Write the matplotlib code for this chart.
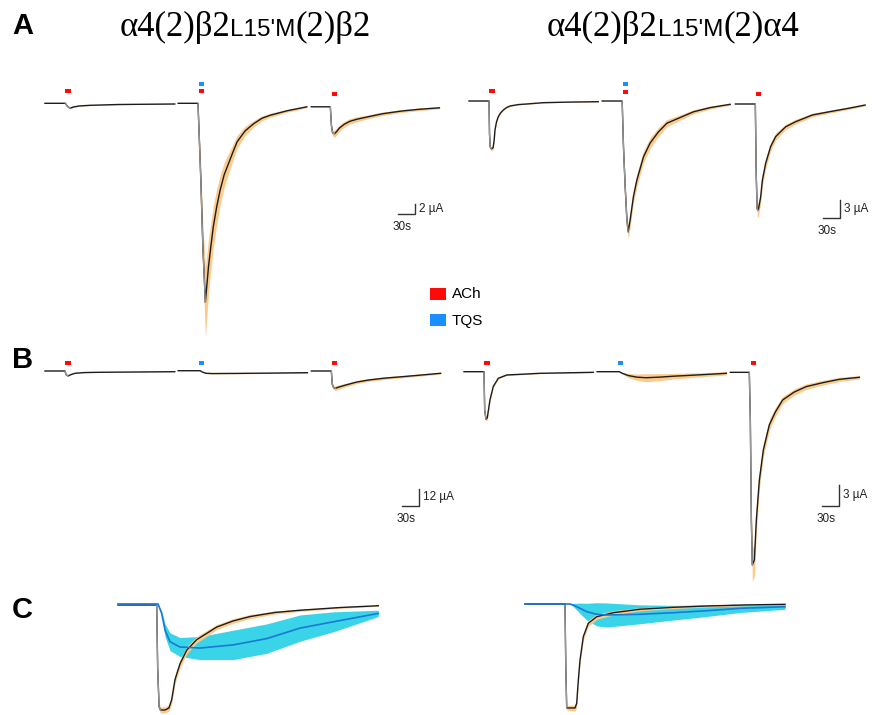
import numpy as np
import matplotlib
matplotlib.use("Agg")
import matplotlib.pyplot as plt
from matplotlib.patches import Rectangle
from matplotlib.transforms import offset_copy

W, H = 885, 715
SEC_PER_PX = 30 / 17.0
SWEEP = 235.0          # s between the starts of consecutive sweeps

ORANGE = "#fccb8c"
CYAN = "#3ad4e8"
TRACE = "#1c1c1c"
RED = "#ff0a0a"
BLUE = "#1890ff"

# ---------------- data ----------------
# time in s from the start of each sweep, current in uA, e = sem
# A, a4(2)b2L15'M(2)b2
aL1_t = [0, 36, 39, 44, 50, 60, 80, 130, 229]
aL1_i = [0, 0, -0.54, -1.0, -0.74, -0.54, -0.4, -0.24, -0.14]
aL1_e = [0, 0, 0.05, 0.1, 0.08, 0.06, 0.05, 0.04, 0.03]
aL2_t = [0, 35, 40, 43.6, 48, 53.5, 57.4, 62, 68, 74, 81.2, 89, 96.2, 104, 118.3, 133, 147.7, 162, 192, 227]
aL2_i = [0, 0, -15.3, -28.7, -39.8, -32.7, -28.9, -24.7, -20.7, -17.4, -14.3, -12.0, -9.9, -7.7, -5.5, -4.1,
         -3.0, -2.4, -1.5, -0.7]
aL2_e = [0, 0, 2.5, 4.5, 7.0, 5.5, 4.8, 4.2, 3.6, 3.0, 2.5, 2.0, 1.6, 1.3, 0.9, 0.65, 0.5, 0.4, 0.3, 0.2]
aL3_t = [0, 33.5, 35.5, 37.5, 41, 45, 50, 58, 68, 80, 100, 125, 159, 190, 226]
aL3_i = [-0.7, -0.7, -4.5, -5.9, -6.1, -5.6, -4.9, -4.2, -3.6, -3.2, -2.7, -2.1, -1.55, -1.2, -0.9]
aL3_e = [0, 0, 0.4, 0.6, 0.7, 0.7, 0.65, 0.6, 0.55, 0.5, 0.4, 0.35, 0.3, 0.25, 0.2]

# A, a4(2)b2L15'M(2)a4
aR1_t = [0, 35.3, 36.2, 37.5, 39.5, 42.5, 44.3, 45.9, 48.5, 51.7, 55.6, 60.5, 66.2, 72.4, 86.5, 101.8,
         131.1, 178, 228]
aR1_i = [0, 0, -5.5, -7.7, -8.0, -7.8, -6.6, -4.8, -3.5, -2.6, -2.0, -1.5, -1.1, -0.83, -0.6, -0.5,
         -0.28, -0.18, -0.12]
aR1_e = [0, 0, 0.2, 0.3, 0.3, 0.3, 0.3, 0.25, 0.2, 0.15, 0.12, 0.1, 0.09, 0.08, 0.06, 0.05, 0.04, 0.03, 0.03]
aR2_t = [0, 35.3, 37.6, 40.6, 43.6, 45.9, 49.4, 55.2, 61.2, 72.9, 84.7, 98.8, 114.2, 137.7, 161.1, 190.6, 225.9]
aR2_i = [0, 0, -7.6, -14.3, -19.8, -21.8, -19.8, -15.9, -13.2, -9.3, -7.0, -5.2, -3.7, -2.75, -1.8, -1.1, -0.55]
aR2_e = [0, 0, 0.4, 0.8, 1.1, 1.2, 1.2, 1.15, 1.1, 1.0, 0.9, 0.75, 0.6, 0.45, 0.35, 0.25, 0.15]
aR3_t = [0, 35.3, 36.8, 38.5, 40.5, 44.7, 47.7, 53.5, 62.3, 71.1, 80, 88.8, 106.4, 136, 165.4, 200.6, 229]
aR3_i = [-0.5, -0.5, -12.0, -18.0, -18.2, -16.0, -13.2, -10.4, -7.6, -5.95, -5.1, -4.3, -3.45, -2.33, -1.8,
         -1.2, -0.67]
aR3_e = [0, 0, 0.7, 1.1, 1.2, 1.1, 1.0, 0.9, 0.75, 0.6, 0.5, 0.45, 0.4, 0.3, 0.25, 0.2, 0.15]

# B, a4(2)b2L15'M(2)b2
bL1_t = [0, 35.3, 37, 40.6, 46, 53, 70, 97, 229]
bL1_i = [0, 0, -2.5, -3.5, -2.5, -1.6, -1.1, -0.9, -0.5]
bL1_e = [0, 0, 0.1, 0.15, 0.1, 0.08, 0.06, 0.05, 0.05]
bL2_t = [0, 38.8, 42, 49, 60, 100, 160, 228]
bL2_i = [0.2, 0.2, -0.6, -1.6, -1.8, -1.7, -1.5, -1.2]
bL2_e = [0, 0, 0.2, 0.3, 0.3, 0.3, 0.25, 0.2]
bL3_t = [0, 35.3, 37, 39.5, 42.4, 47, 60.5, 80, 101.8, 130, 160.6, 195, 228.2]
bL3_i = [0, 0, -9.5, -11.8, -12.2, -11.5, -9.9, -7.8, -6.3, -5.0, -4.0, -2.8, -1.6]
bL3_e = [0, 0, 1.0, 1.4, 1.6, 1.5, 1.3, 1.1, 1.0, 0.9, 0.8, 0.7, 0.6]

# B, a4(2)b2L15'M(2)a4
bR1_t = [0, 35.3, 36.5, 38.8, 41, 45.9, 51.7, 60.5, 75.4, 134, 228]
bR1_i = [0, 0, -5.5, -6.8, -6.6, -4.0, -2.1, -0.94, -0.47, -0.23, -0.09]
bR1_e = [0, 0, 0.2, 0.3, 0.3, 0.25, 0.15, 0.1, 0.08, 0.05, 0.04]
bR2_t = [0, 38.8, 45, 55, 70, 86, 110, 133, 180, 228]
bR2_i = [0, 0, -0.25, -0.55, -0.78, -0.86, -0.78, -0.65, -0.45, -0.23]
bR2_e = [0, 0, 0.12, 0.3, 0.45, 0.57, 0.5, 0.4, 0.3, 0.24]
bR3_t = [0, 33.5, 35.3, 37.1, 38.8, 42.4, 45.9, 51.2, 58.2, 68.8, 79.4, 92.3, 112.9, 133.6, 163, 192.4, 227.7]
bR3_i = [-0.09, -0.09, -6.9, -21.2, -27.6, -26.9, -21.2, -15.5, -11.2, -7.6, -5.76, -4.04, -2.9, -2.14,
         -1.57, -1.09, -0.8]
bR3_e = [0, 0, 0.5, 1.5, 2.4, 2.3, 1.8, 1.3, 1.0, 0.8, 0.65, 0.5, 0.45, 0.4, 0.35, 0.3, 0.25]

# C, normalised ACh vs TQS responses
cL_ach_t = [0, 68.3, 70, 72.5, 75, 83, 90, 94.8, 100.6, 109.4, 121.3, 138.9, 174.2, 203, 233, 277, 321.2,
            392, 459.3]
cL_ach_i = [0, 0, -0.6, -0.97, -1.0, -1.0, -0.98, -0.9, -0.71, -0.56, -0.43, -0.33, -0.21, -0.152, -0.11,
            -0.071, -0.05, -0.024, -0.007]
cL_ach_e = [0, 0, 0.02, 0.03, 0.03, 0.03, 0.03, 0.04, 0.04, 0.04, 0.035, 0.03, 0.025, 0.022, 0.02, 0.015,
            0.01, 0.008, 0.005]
cL_tqs_t = [0, 70.6, 77.1, 83, 91.8, 109.4, 144.7, 203.3, 262.5, 321.2, 379.9, 459.3]
cL_tqs_i = [0.01, 0.01, -0.08, -0.24, -0.35, -0.40, -0.41, -0.38, -0.32, -0.22, -0.16, -0.08]
cL_tqs_e = [0, 0, 0.02, 0.06, 0.085, 0.09, 0.11, 0.14, 0.14, 0.125, 0.095, 0.03]

cR_ach_t = [0, 70.6, 72, 73.6, 88.3, 91.2, 94.1, 97.1, 102.9, 111.7, 126.5, 155.8, 203, 260, 320.7, 390, 458.9]
cR_ach_i = [0, 0, -0.6, -0.99, -0.99, -0.946, -0.724, -0.533, -0.311, -0.184, -0.121, -0.083, -0.05, -0.032,
            -0.019, -0.009, -0.003]
cR_ach_e = [0, 0, 0.02, 0.02, 0.03, 0.04, 0.04, 0.04, 0.035, 0.03, 0.025, 0.02, 0.015, 0.012, 0.01, 0.008, 0.005]
cR_tqs_t = [0, 79.4, 85.3, 97.1, 108.9, 126.5, 144.2, 203, 261.7, 320.7, 379.5, 458.9]
cR_tqs_i = [0, 0, -0.01, -0.041, -0.073, -0.098, -0.105, -0.098, -0.083, -0.064, -0.041, -0.026]
cR_tqs_e = [0, 0, 0.015, 0.05, 0.08, 0.11, 0.115, 0.09, 0.07, 0.055, 0.04, 0.025]

drugs_A = [["ACh"], ["ACh", "TQS"], ["ACh"]]
drugs_B = [["ACh"], ["TQS"], ["ACh"]]
drug_colors = {"ACh": RED, "TQS": BLUE}

fig = plt.figure(figsize=(W / 100, H / 100), dpi=100)

# full-figure overlay in pixel units for labels / legend
lay = fig.add_axes([0, 0, 1, 1])
lay.set_xlim(0, W)
lay.set_ylim(H, 0)
lay.axis("off")


def panel(x0, y0, ppu):
    # axes covering whole figure, time 0 at px x0, current 0 at px y0
    ax = fig.add_axes([0, 0, 1, 1])
    ax.set_xlim(-x0 * SEC_PER_PX, (W - x0) * SEC_PER_PX)
    ax.set_ylim(-(H - y0) / ppu, y0 / ppu)
    ax.axis("off")
    return ax


def trace(ax, t, i, e, t_off=0.0, band=ORANGE, line=TRACE, z=2):
    t = np.asarray(t, float) + t_off
    i = np.asarray(i, float)
    e = np.asarray(e, float)
    ax.fill_between(t, i - e, i + e, color=band, lw=0, zorder=z)
    ax.plot(t, i, color=line, lw=1.0, zorder=z + 0.5)
    pk = int(np.argmin(i))
    if t[pk] - t[1] < 15:   # fast rising phase looks grey in the recording
        ax.plot(t[1:pk + 1], i[1:pk + 1], color="#9a9a9a", lw=0.9, zorder=z + 0.6)


def marks(ax, sweeps, drugs, rises):
    for (t, i), ds in zip(sweeps, drugs):
        for d, r in zip(ds, rises[len(ds) - 1]):
            tr = offset_copy(ax.transData, fig=fig, x=0, y=r, units="dots")
            ax.plot([t[0] + 36, t[0] + 46], [i[0], i[0]], color=drug_colors[d], lw=4 * 0.72,
                    solid_capstyle="butt", transform=tr, zorder=5)


def scale_bar(ax, x0, y0, ppu, cx, cy, uA, label):
    t_end = (cx - x0) * SEC_PER_PX
    i_bot = (y0 - cy) / ppu
    ax.plot([t_end - 30, t_end, t_end], [i_bot, i_bot, i_bot + uA],
            color="#333333", lw=1.0, solid_joinstyle="miter")
    ax.annotate(label, (t_end, i_bot + uA / 2), xytext=(4, 0), textcoords="offset pixels",
                ha="left", va="center", fontsize=8.5, family="Liberation Sans", color="#222222")
    ax.annotate("30s", (t_end - 15, i_bot), xytext=(-4, -7), textcoords="offset pixels",
                ha="center", va="top", fontsize=8.5, family="Liberation Sans", color="#222222")


def row(x0, y0, ppu, sweeps, drugs, rises):
    ax = panel(x0, y0, ppu)
    for k, (t, i, e) in enumerate(sweeps):
        trace(ax, t, i, e, t_off=k * SWEEP)
    marks(ax, [(np.asarray(t) + k * SWEEP, i) for k, (t, i, e) in enumerate(sweeps)], drugs, rises)
    return ax


# A row
axAL = row(45, 103.3, 5.0, [(aL1_t, aL1_i, aL1_e), (aL2_t, aL2_i, aL2_e), (aL3_t, aL3_i, aL3_e)],
           drugs_A, [[12.5], [12, 19.5]])
scale_bar(axAL, 45, 103.3, 5.0, 415, 214, 2, "2 µA")
axAR = row(469, 101, 6.0, [(aR1_t, aR1_i, aR1_e), (aR2_t, aR2_i, aR2_e), (aR3_t, aR3_i, aR3_e)],
           drugs_A, [[10], [9, 17]])
scale_bar(axAR, 469, 101, 6.0, 840, 218, 3, "3 µA")

# B row
axBL = row(45, 371, 1.42, [(bL1_t, bL1_i, bL1_e), (bL2_t, bL2_i, bL2_e), (bL3_t, bL3_i, bL3_e)],
           drugs_B, [[8]])
scale_bar(axBL, 45, 371, 1.42, 419, 506, 12, "12 µA")
axBR = row(464, 371.7, 7.0, [(bR1_t, bR1_i, bR1_e), (bR2_t, bR2_i, bR2_e), (bR3_t, bR3_i, bR3_e)],
           drugs_B, [[9]])
scale_bar(axBR, 464, 371.7, 7.0, 839, 506, 3, "3 µA")

# C row
for x0, y0, ach, tqs in [(118, 605, (cL_ach_t, cL_ach_i, cL_ach_e), (cL_tqs_t, cL_tqs_i, cL_tqs_e)),
                         (525, 604, (cR_ach_t, cR_ach_i, cR_ach_e), (cR_tqs_t, cR_tqs_i, cR_tqs_e))]:
    ax = panel(x0, y0, 105.0)
    tt, ti, te = (np.asarray(a, float) for a in tqs)
    ax.fill_between(tt, ti - te, ti + te, color=CYAN, lw=0, zorder=1)
    trace(ax, *ach, z=2)
    ax.plot(tt, ti, color="#1a78d6", lw=1.2, zorder=4)

# panel letters
for s, y in [("A", 12), ("B", 346), ("C", 596)]:
    lay.text(12, y, s, fontsize=21, fontweight="bold", family="Liberation Sans",
             ha="left", va="top")

# legend
lay.add_patch(Rectangle((430, 288), 16, 12, color=RED, lw=0))
lay.add_patch(Rectangle((430, 314), 16, 12, color=BLUE, lw=0))
lay.text(452, 294.5, "ACh", fontsize=11, family="Liberation Sans", va="center", ha="left")
lay.text(452, 320.5, "TQS", fontsize=11, family="Liberation Sans", va="center", ha="left")

# titles: serif + sans subscript-like part
renderer = fig.canvas.get_renderer()


def title(xc, y_base, parts):
    items = []
    for s, fam, size in parts:
        items.append(lay.text(0, y_base, s, family=fam, fontsize=size, va="baseline", ha="left"))
    widths = [it.get_window_extent(renderer).width for it in items]
    x = xc - sum(widths) / 2
    for it, w in zip(items, widths):
        it.set_x(x)
        x += w


title(245, 35.5, [("α4(2)β2", "Liberation Serif", 25), ("L15'M", "Liberation Sans", 17.5),
                  ("(2)β2", "Liberation Serif", 25)])
title(673, 35.5, [("α4(2)β2", "Liberation Serif", 25), ("L15'M", "Liberation Sans", 17.5),
                  ("(2)α4", "Liberation Serif", 25)])

fig.savefig("out.png", dpi=100)
